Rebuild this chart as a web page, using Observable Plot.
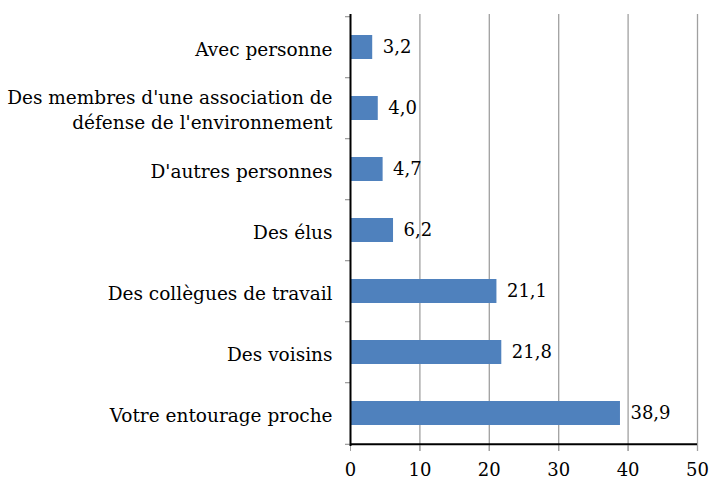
<!DOCTYPE html>
<html>
<head>
<meta charset="utf-8">
<script src="https://cdn.jsdelivr.net/npm/d3@7"></script>
<script src="https://cdn.jsdelivr.net/npm/@observablehq/plot@0.6"></script>
<style>
  html, body { margin: 0; padding: 0; background: #fff; }
  #chart svg { display: block; }
</style>
</head>
<body>
<div id="chart"></div>
<script>
const categories = [
  "Avec personne",
  "Des membres d'une association de\ndéfense de l'environnement",
  "D'autres personnes",
  "Des élus",
  "Des collègues de travail",
  "Des voisins",
  "Votre entourage proche"
];
const values = [3.2, 4.0, 4.7, 6.2, 21.1, 21.8, 38.9];
const xTicks = [0, 10, 20, 30, 40, 50];

const data = categories.map((c, i) => ({category: c, value: values[i]}));
const fmt = v => v.toFixed(1).replace(".", ",");

const width = 710, height = 486;
const mTop = 14, mBottom = 40;
const step = (height - mTop - mBottom) / categories.length;

const chart = Plot.plot({
  width, height,
  marginLeft: 350, marginRight: 13, marginTop: mTop, marginBottom: mBottom,
  style: {fontFamily: "'DejaVu Serif', serif", fontSize: "18px", color: "#000", background: "#fff"},
  x: {domain: [0, 50], ticks: xTicks, label: null},
  y: {domain: categories, paddingInner: 0.61, paddingOuter: 0.305, label: null},
  marks: [
    Plot.ruleX(xTicks.filter(t => t > 0), {stroke: "#a0a0a0", strokeWidth: 1.3, strokeOpacity: 1, insetBottom: -5}),
    Plot.axisX({ticks: xTicks, tickSize: 5, tickPadding: 12, stroke: "#a0a0a0", strokeOpacity: 1, tickFormat: d => String(d), fontSize: 18}),
    Plot.axisY({tickSize: 0, tickPadding: 18, fontSize: 18.5, lineHeight: 1.35}),
    Plot.ruleY(categories, {y: d => d, dy: -step / 2, x1: -0.72, x2: 0, stroke: "#a0a0a0", strokeWidth: 1.3}),
    Plot.ruleY(categories.slice(-1), {y: d => d, dy: step / 2, x1: -0.72, x2: 0, stroke: "#a0a0a0", strokeWidth: 1.3}),
    Plot.barX(data, {x: "value", y: "category", fill: "#4f81bd"}),
    Plot.text(data, {x: "value", y: "category", text: d => fmt(d.value), textAnchor: "start", dx: 10, fontSize: 18, fill: "#000"}),
    Plot.ruleX([0], {stroke: "#000", strokeWidth: 2}),
    Plot.ruleY(categories.slice(-1), {y: d => d, dy: step / 2, x1: 0, x2: 50, stroke: "#000", strokeWidth: 2})
  ]
});
document.getElementById("chart").appendChild(chart);
</script>
</body>
</html>
